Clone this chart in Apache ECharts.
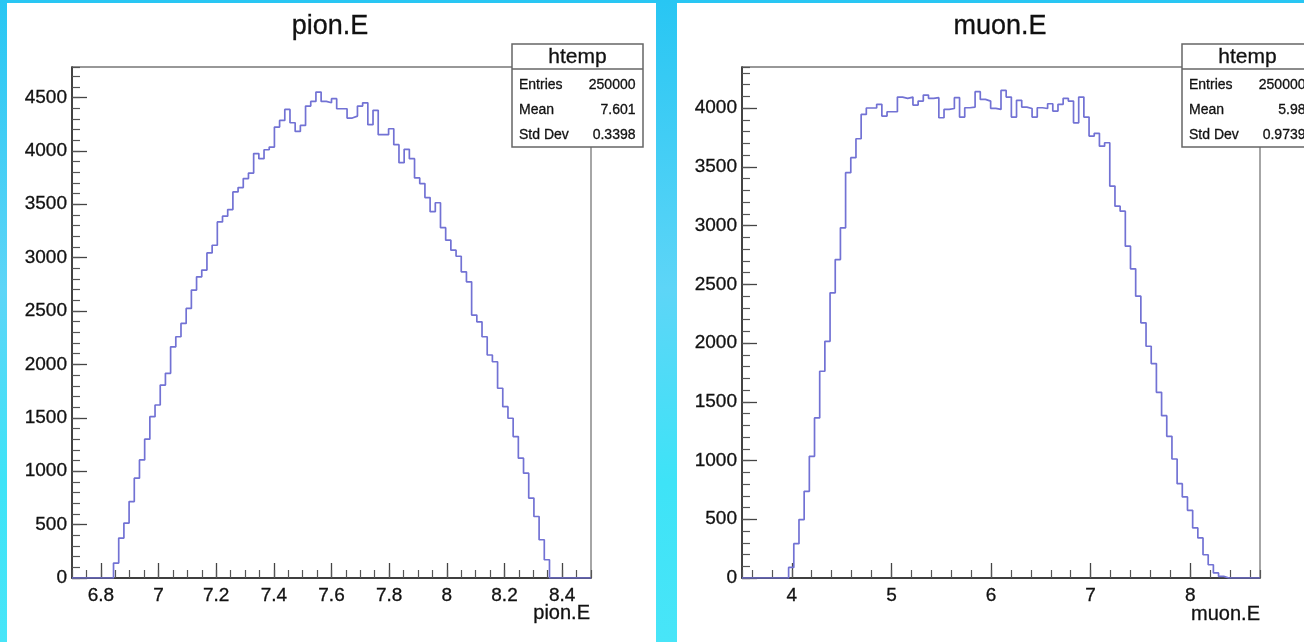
<!DOCTYPE html>
<html>
<head>
<meta charset="utf-8">
<script src="https://cdn.jsdelivr.net/npm/echarts@6/dist/echarts.min.js"></script>
<style>
  html, body { margin: 0; padding: 0; }
  #main { width: 1304px; height: 642px; }
</style>
</head>
<body>
<div id="main"></div>
<script>
// pion.E : 100 bins between 6.7 and 8.5
const pionRange = [6.7, 8.5];
const pionCounts = [
  0, 0, 0, 0, 0, 0, 0, 0,
  140, 374, 514, 716, 935, 1106, 1300, 1511, 1620, 1807,
  1917, 2165, 2259, 2384, 2524, 2696, 2820, 2883, 3044, 3116,
  3334, 3388, 3450, 3615, 3656, 3740, 3792, 3974, 3927, 4010,
  4035, 4222, 4285, 4388, 4263, 4182, 4238, 4419, 4463, 4550,
  4463, 4450, 4488, 4394, 4394, 4307, 4325, 4419, 4450, 4245,
  4379, 4151, 4151, 4207, 4058, 3889, 4014, 3927, 3746, 3693,
  3562, 3430, 3514, 3280, 3163, 3070, 3013, 2867, 2773, 2462,
  2399, 2259, 2088, 2025, 1777, 1604, 1496, 1324, 1122, 982,
  748, 576, 358, 171,
  0, 0, 0, 0, 0, 0, 0, 0
];

// muon.E : 100 bins between 3.5 and 8.7
const muonRange = [3.5, 8.7];
const muonCounts = [
  0, 0, 0, 0, 0, 0, 0, 0, 0,
  90, 292, 497, 738, 1036, 1363, 1760, 2015, 2428, 2711,
  2981, 3450, 3578, 3739, 3946, 4001, 4001, 4032, 3932, 3969,
  3969, 4094, 4083, 4094, 4026, 4060, 4111, 4083, 4089, 3918,
  3989, 3997, 4089, 3924, 4003, 4009, 4140, 4074, 4060, 3998,
  3989, 4151, 4094, 3924, 4066, 4009, 3997, 3924, 4003, 3997,
  4037, 3975, 4032, 4083, 4060, 3875, 4094, 3924, 3762, 3785,
  3676, 3705, 3336, 3165, 3123, 2825, 2632, 2399, 2172, 1973,
  1825, 1581, 1382, 1206, 1013, 803, 690, 576, 426, 341,
  198, 113, 43, 14,
  0, 0, 0, 0, 0, 0, 0
];

const statNames = ['Entries', 'Mean', 'Std Dev'];
const pionStats = ['250000', '7.601', '0.3398'];
const muonStats = ['250000', '5.98', '0.9739'];

const pionYMax = 4785;
const muonYMax = 4350;

const FONT = '"Liberation Sans", Arial, Helvetica, sans-serif';
const LINE = '#7272d4';

function histPoints(range, counts) {
  const w = (range[1] - range[0]) / counts.length;
  const pts = counts.map((c, i) => [range[0] + i * w, c]);
  pts.push([range[1], counts[counts.length - 1]]);
  return pts;
}

function fmt(v) {
  return String(Math.round(v * 1000) / 1000);
}

// labelled axis (long ticks) + a second one on the same side just for the short ticks
function xAxes(grid, range, major, minor) {
  return [
    {
      type: 'value', gridIndex: grid, position: 'bottom', z: 2,
      min: range[0], max: range[1], minInterval: major, maxInterval: major, splitNumber: 10,
      axisLine: { onZero: false, lineStyle: { color: '#222', width: 1.5 } },
      axisTick: { inside: true, length: 15, lineStyle: { color: '#444', width: 1.3 } },
      axisLabel: {
        margin: 8, color: '#111', fontSize: 19, fontFamily: FONT,
        textBorderColor: '#111', textBorderWidth: 0.3,
        showMinLabel: false, showMaxLabel: false, formatter: fmt
      },
      splitLine: { show: false }
    },
    {
      type: 'value', gridIndex: grid, position: 'bottom', z: 2,
      min: range[0], max: range[1], minInterval: minor, maxInterval: minor, splitNumber: 40,
      axisLine: { show: false, onZero: false },
      axisTick: { inside: true, length: 8, lineStyle: { color: '#555', width: 1.2 } },
      axisLabel: { show: false },
      splitLine: { show: false }
    }
  ];
}

function yAxes(grid, max) {
  return [
    {
      type: 'value', gridIndex: grid, position: 'left', z: 2,
      min: 0, max: max, minInterval: 500, maxInterval: 500, splitNumber: 10,
      axisLine: { onZero: false, lineStyle: { color: '#222', width: 1.5 } },
      axisTick: { inside: true, length: 15, lineStyle: { color: '#444', width: 1.3 } },
      axisLabel: {
        margin: 5, color: '#111', fontSize: 19, fontFamily: FONT,
        textBorderColor: '#111', textBorderWidth: 0.3,
        showMaxLabel: false, formatter: fmt
      },
      splitLine: { show: false }
    },
    {
      type: 'value', gridIndex: grid, position: 'left', z: 2,
      min: 0, max: max, minInterval: 100, maxInterval: 100, splitNumber: 50,
      axisLine: { show: false, onZero: false },
      axisTick: { inside: true, length: 8, lineStyle: { color: '#555', width: 1.2 } },
      axisLabel: { show: false },
      splitLine: { show: false }
    }
  ];
}

function text(x, y, str, size, align) {
  return {
    type: 'text', z: 10,
    style: {
      x: x, y: y, text: str, fill: '#111',
      stroke: '#111', lineWidth: 0.3,
      font: size + 'px ' + FONT,
      textAlign: align, textVerticalAlign: 'middle', verticalAlign: 'middle'
    }
  };
}

function statsBox(left, values) {
  const w = 131, top = 44, h = 103;
  const els = [
    { type: 'rect', z: 10, shape: { x: left, y: top, width: w, height: h },
      style: { fill: '#fff', stroke: '#666', lineWidth: 1.5 } },
    { type: 'line', z: 10, shape: { x1: left, y1: 69, x2: left + w, y2: 69 },
      style: { stroke: '#666', lineWidth: 1.3 } },
    text(left + w / 2, 57, 'htemp', 21, 'center')
  ];
  const rows = [85, 110, 135];
  statNames.forEach((n, i) => {
    els.push(text(left + 7, rows[i], n, 14, 'left'));
    els.push(text(left + w - 7.5, rows[i], values[i], 14, 'right'));
  });
  return els;
}

const chart = echarts.init(document.getElementById('main'), null, { renderer: 'canvas' });

const graphics = [
  { type: 'rect', z: 0, z2: 0, shape: { x: 0, y: 0, width: 1304, height: 642 },
    style: { fill: new echarts.graphic.LinearGradient(0, 0, 0, 1, [
      { offset: 0, color: '#28c6f3' },
      { offset: 0.45, color: '#5dd5f7' },
      { offset: 0.75, color: '#3ee3f7' },
      { offset: 1, color: '#48e5f8' }
    ]) } },
  { type: 'rect', z: 0, z2: 1, shape: { x: 7, y: 3, width: 649, height: 639 }, style: { fill: '#fff' } },
  { type: 'rect', z: 0, z2: 1, shape: { x: 677, y: 3, width: 627, height: 639 }, style: { fill: '#fff' } },
  text(330, 27, 'pion.E', 27, 'center'),
  text(1000, 27, 'muon.E', 27, 'center'),
  text(590, 613, 'pion.E', 20, 'right'),
  text(1260, 614, 'muon.E', 20, 'right')
].concat(statsBox(512, pionStats), statsBox(1182, muonStats));

const option = {
  animation: false,
  backgroundColor: 'transparent',
  graphic: { elements: graphics },
  grid: [
    { left: 72, top: 67, width: 519, height: 511, show: true, z: 1,
      borderColor: '#777', borderWidth: 1.3, backgroundColor: 'transparent' },
    { left: 742, top: 67, width: 518, height: 511, show: true, z: 1,
      borderColor: '#777', borderWidth: 1.3, backgroundColor: 'transparent' }
  ],
  xAxis: xAxes(0, pionRange, 0.2, 0.05).concat(xAxes(1, muonRange, 1, 0.2)),
  yAxis: yAxes(0, pionYMax).concat(yAxes(1, muonYMax)),
  series: [
    {
      name: 'pion.E', type: 'line', step: 'end', xAxisIndex: 0, yAxisIndex: 0, z: 3,
      showSymbol: false, symbol: 'none',
      lineStyle: { color: LINE, width: 1.7 },
      data: histPoints(pionRange, pionCounts)
    },
    {
      name: 'muon.E', type: 'line', step: 'end', xAxisIndex: 2, yAxisIndex: 2, z: 3,
      showSymbol: false, symbol: 'none',
      lineStyle: { color: LINE, width: 1.7 },
      data: histPoints(muonRange, muonCounts)
    }
  ]
};

chart.setOption(option);
</script>
</body>
</html>
